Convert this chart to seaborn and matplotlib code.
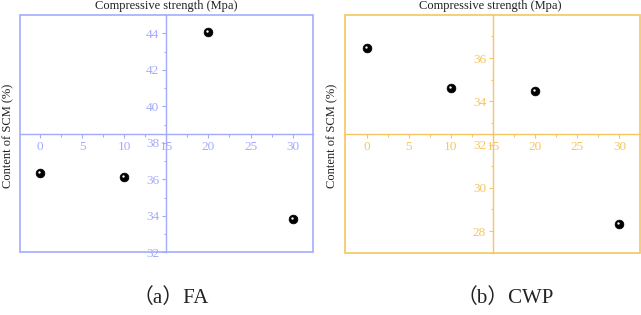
import matplotlib
matplotlib.use("Agg")
import matplotlib.pyplot as plt
import matplotlib.transforms as mtransforms
from matplotlib.patches import Rectangle
from matplotlib.ticker import MultipleLocator
import seaborn as sns
import pandas as pd

# ---- data ----
scm_content = [0, 10, 20, 30]
fa_strength = [36.35, 36.15, 44.1, 33.8]
cwp_strength = [36.45, 34.63, 34.46, 28.32]

title_text = "Compressive strength (Mpa)"
ylabel_text = "Content of SCM (%)"
captions = ["（a）FA", "（b）CWP"]

sns.set_theme(style="white")
plt.rcParams['font.family'] = ['Liberation Serif', 'Noto Sans CJK SC', 'DejaVu Sans']

fig = plt.figure(figsize=(6.41, 3.15), dpi=100)

panels = [
    dict(vals=fa_strength, color="#a3abff", pos=[0.031, 0.199, 0.457, 0.753],
         xlim=(-2.4, 32.4), ylim=(32, 45), ycross=38.5, ymajor=2,
         tx=0.260, lx=0.013, cx=0.267, caption=captions[0]),
    dict(vals=cwp_strength, color="#f5c661", pos=[0.539, 0.198, 0.459, 0.753],
         xlim=(-2.5, 32.4), ylim=(27, 37.97), ycross=32.5, ymajor=2,
         tx=0.765, lx=0.518, cx=0.788, caption=captions[1]),
]

for p in panels:
    ax = fig.add_axes(p["pos"])
    df = pd.DataFrame({"x": scm_content, "y": p["vals"]})
    sns.scatterplot(data=df, x="x", y="y", ax=ax, color="black", s=40,
                    edgecolor="black", linewidth=0.5, zorder=5, legend=False)
    # small highlight for the glossy sphere look
    off = mtransforms.ScaledTranslation(-1.0 / 100, 1.0 / 100, fig.dpi_scale_trans)
    sns.scatterplot(data=df, x="x", y="y", ax=ax, color="white", s=3,
                    linewidth=0, zorder=6, legend=False,
                    transform=ax.transData + off)
    ax.set_xlim(*p["xlim"])
    ax.set_ylim(*p["ylim"])
    ax.set_xlabel("")
    ax.set_ylabel("")
    c = p["color"]
    ax.spines["left"].set_position(("data", 15))
    ax.spines["bottom"].set_position(("data", p["ycross"]))
    ax.spines["top"].set_visible(False)
    ax.spines["right"].set_visible(False)
    for s in ["left", "bottom"]:
        ax.spines[s].set_color(c)
        ax.spines[s].set_linewidth(1.0)
    ax.add_patch(Rectangle((0, 0), 1, 1, transform=ax.transAxes, fill=False,
                           edgecolor=c, linewidth=1.2, clip_on=False, zorder=4))
    ax.xaxis.set_major_locator(MultipleLocator(5))
    ax.xaxis.set_minor_locator(MultipleLocator(2.5))
    ax.yaxis.set_major_locator(MultipleLocator(p["ymajor"]))
    ax.yaxis.set_minor_locator(MultipleLocator(1))
    ax.tick_params(axis="both", which="major", direction="out", length=3,
                   width=0.8, color=c, labelcolor=c, labelsize=9.5, pad=2)
    ax.tick_params(axis="both", which="minor", direction="out", length=1.8,
                   width=0.8, color=c)
    ax.tick_params(axis="x", which="both", bottom=True)
    ax.tick_params(axis="y", which="both", left=True)
    for lab in ax.get_xticklabels() + ax.get_yticklabels():
        lab.set_fontfamily(['Liberation Serif', 'DejaVu Sans'])
    ax.grid(False)
    ax.set_facecolor("white")

    fig.text(p["tx"], 0.981, title_text, ha="center", va="center", fontsize=9,
             color="#222222")
    fig.text(p["lx"], 0.568, ylabel_text, ha="center", va="center", fontsize=9,
             rotation=90, color="#222222")
    fig.text(p["cx"], 0.054, p["caption"], ha="center", va="center", fontsize=15,
             color="#222222",
             family=['Liberation Serif', 'Noto Sans CJK SC', 'DejaVu Sans'])

fig.savefig("out.png", dpi=100, facecolor="white")
